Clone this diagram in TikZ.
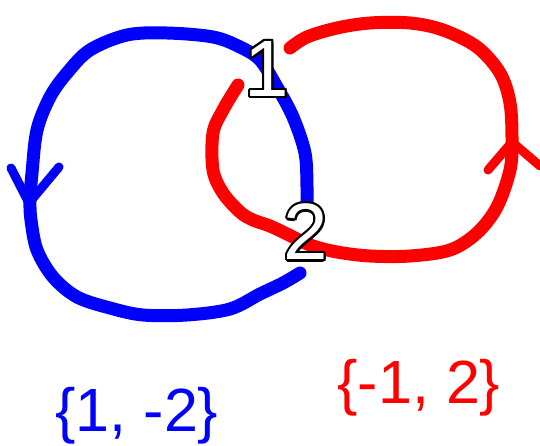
\documentclass[tikz,border=0pt]{standalone}
\usepackage{fontspec}
\setmainfont{Liberation Sans}
\usetikzlibrary{calc}
\tikzset{
  stroke/.style={line width=13pt, line cap=round, line join=round},
  tick/.style={line width=9pt, line cap=round, line join=round},
  digit/.style={font=\fontsize{80}{80}\selectfont, inner sep=0pt},
  setlabel/.style={font=\fontsize{61}{61}\selectfont, inner sep=0pt}
}
\newcommand{\outlinedlabel}[3]{%
  \foreach \a in {0,22.5,...,337.5}{\node[digit,text=black] at ($(#2)+(\a:2.2pt)$) {#3};}
  \node[digit,text=white] (#1) at (#2) {#3};}
\begin{document}
\begin{tikzpicture}[x=1pt,y=-1pt]
\useasboundingbox (0,0) rectangle (540,446);
% blue loop
\draw[stroke,blue] plot[smooth,tension=0.55] coordinates {
 (300,273) (283,283) (260,294) (230,309) (187,315) (143,315) (110,308) (77,297)
 (53,277) (37,250) (31,220) (30,200) (32,173) (37,130) (50,97) (67,73) (90,50)
 (127,35) (167,33) (213,37) (240,47) (260,60) (277,87) (293,117) (305,153)
 (307,187) (307,202)};
\draw[tick,blue] (11,168) -- (29,203) -- (59,167);
% red loop
\draw[stroke,red] plot[smooth,tension=0.55] coordinates {
 (290,48) (307,37) (337,28) (370,23) (410,23) (443,30) (477,47) (500,73)
 (510,103) (512,140) (510,170) (497,207) (477,233) (450,250) (410,256) (370,256)
 (337,252) (310,245) (287,234) (270,226) (253,220) (240,212) (223,193) (213,170)
 (213,133) (223,110) (238,85)};
\draw[tick,red] (488,170) -- (512,142) -- (540,166);
% crossing labels
\coordinate (p1) at (267,69);
\coordinate (p2) at (306,232);
\outlinedlabel{one}{p1}{1}
\outlinedlabel{two}{p2}{2}
% set labels
\node[setlabel,text=blue] (bl) at (137,416) {\{1, -2\}};
\node[setlabel,text=red] (rl) at (419,388) {\{-1, 2\}};
\end{tikzpicture}
\end{document}
